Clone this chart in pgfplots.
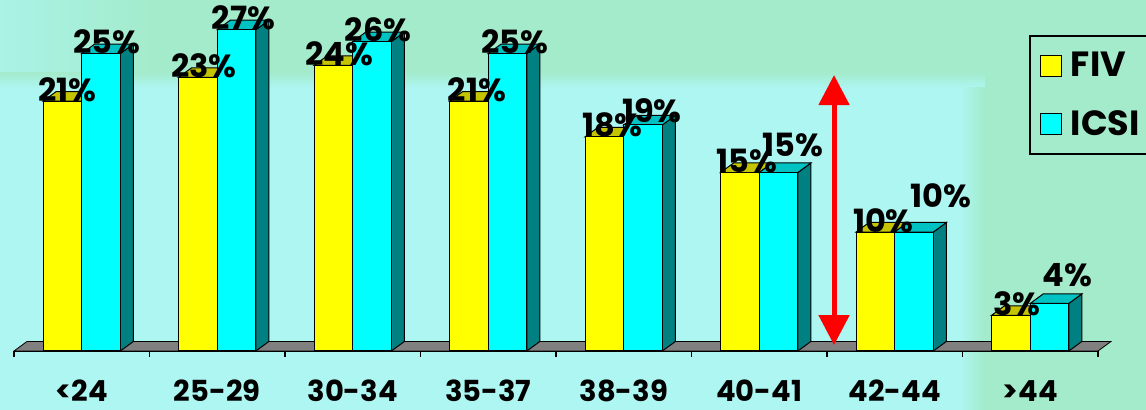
\documentclass[border=0pt]{standalone}
\usepackage{pgfplots}
\pgfplotsset{compat=1.18}
\usepackage{pgfplotstable}
\usetikzlibrary{arrows.meta}
\usepackage{fontspec}
\setmainfont{Poppins}

\definecolor{barY}{HTML}{FFFF00}
\definecolor{barYtop}{HTML}{C4C400}
\definecolor{barYside}{HTML}{8A8A00}
\definecolor{barC}{HTML}{00FFFF}
\definecolor{barCtop}{HTML}{00C2C2}
\definecolor{barCside}{HTML}{008080}
\definecolor{floorgray}{HTML}{808080}
\definecolor{bgcyan}{HTML}{ADF6F2}
\definecolor{bggreen}{HTML}{A3EBCA}

\pgfplotsset{
  /pgf/number format/assume math mode=true,
  sqlegend/.style={legend image code/.code={%
    \draw[##1,/tikz/.cd,draw=black,line width=0.5pt] (0pt,-5.25pt) rectangle (10.5pt,5.25pt);}},
}

% success rate by age group; fdx/fdy, idx/idy: label offsets in pt
\pgfplotstableread{
x fiv icsi fdx fdy idx idy
0 21 25 2.5 0 3.0 0
1 23 27 3.0 0 3.5 0
2 24 26 3.0 0 3.0 0
3 21 25 4.0 0 3.5 0
4 18 19 4.0 0 4.5 1
5 15 15 3.5 0 7.0 8
6 10 10 4.0 0 13.5 12.5
7 3 4 3.0 0 9.0 8.5
}\agedata

% bar geometry (axis units): width of one bar, depth offsets
\def\bw{0.285}
\def\dX{0.096}
\def\dY{0.80}

\newcommand{\barfont}{\bfseries\fontsize{16}{16}\selectfont}

\begin{document}
\begin{tikzpicture}
\useasboundingbox (0,0) rectangle (573pt,205pt);

% backdrop
\begin{scope}[x=0.5pt, y=-0.5pt, shift={(0pt,205pt)}]
  \fill[bgcyan] (0,0) rectangle (1146,410);
  \fill[bggreen] (0,0) rectangle (1146,72);
  \shade[top color=bggreen, bottom color=bgcyan] (0,72) rectangle (1146,88);
  \shade[left color=bgcyan!70!bggreen, right color=bggreen] (0,0) rectangle (160,72);
  \fill[bggreen] (985,0) rectangle (1146,410);
  \shade[left color=bgcyan, right color=bggreen] (960,88) rectangle (985,410);
\end{scope}

\begin{axis}[
  at={(7pt,29.5pt)}, anchor=south west,
  scale only axis, width=542pt, height=175.5pt,
  xmin=-0.5, xmax=7.5, ymin=0, ymax=29.5,
  clip=false,
  axis x line*=bottom, axis y line=none,
  axis line style={black, line width=0.6pt, -},
  xtick={0,...,7},
  xticklabels={<24,25-29,30-34,35-37,38-39,40-41,42-44,>44},
  major tick length=0pt,
  minor xtick={-0.5,0.5,...,7.5},
  xtick align=outside,
  minor tick length=3pt,
  minor tick style={black, line width=0.6pt},
  xticklabel style={font=\bfseries\fontsize{14.5}{14.5}\selectfont,
    anchor=base, yshift=-25.5pt, inner sep=0pt, text depth=0pt},
  legend style={at={(0.9364,0.9003)}, anchor=north west,
    draw=black, line width=0.8pt, fill=none,
    font=\bfseries\fontsize{17.5}{17.5}\selectfont,
    inner xsep=5pt, inner ysep=6pt, row sep=11.5pt,
    cells={anchor=west},
    /tikz/every odd column/.append style={column sep=2.5pt}},
]

% floor slab
\filldraw[fill=floorgray, draw=black, line width=0.4pt]
  (axis cs:-0.5,0) -- (axis cs:7.5,0) -- (axis cs:7.596,\dY)
  -- (axis cs:-0.404,\dY) -- cycle;

% FIV: top and side faces
\pgfplotsinvokeforeach{0,...,7}{%
  \pgfplotstablegetelem{#1}{fiv}\of\agedata
  \pgfmathsetmacro\v{\pgfplotsretval}%
  \pgfmathsetmacro\vt{\v+\dY}%
  \pgfmathsetmacro\xl{#1-\bw}%
  \pgfmathsetmacro\xlb{#1-\bw+\dX}%
  \pgfmathsetmacro\xm{#1}%
  \pgfmathsetmacro\xmb{#1+\dX}%
  \edef\faces{%
    \noexpand\filldraw[fill=barYside, draw=black, line width=0.5pt]
      (axis cs:\xm,0) -- (axis cs:\xm,\v) -- (axis cs:\xmb,\vt) -- (axis cs:\xmb,\dY) -- cycle;
    \noexpand\filldraw[fill=barYtop, draw=black, line width=0.5pt]
      (axis cs:\xl,\v) -- (axis cs:\xm,\v) -- (axis cs:\xmb,\vt) -- (axis cs:\xlb,\vt) -- cycle;
  }\faces
}

\addplot[ybar, bar width=\bw, bar shift=-0.1425, fill=barY, draw=black, line width=0.5pt, sqlegend]
  table[x=x, y=fiv]{\agedata};
\addlegendentry{FIV}

% ICSI: top and side faces
\pgfplotsinvokeforeach{0,...,7}{%
  \pgfplotstablegetelem{#1}{icsi}\of\agedata
  \pgfmathsetmacro\w{\pgfplotsretval}%
  \pgfmathsetmacro\wt{\w+\dY}%
  \pgfmathsetmacro\xm{#1}%
  \pgfmathsetmacro\xmb{#1+\dX}%
  \pgfmathsetmacro\xr{#1+\bw}%
  \pgfmathsetmacro\xrb{#1+\bw+\dX}%
  \edef\faces{%
    \noexpand\filldraw[fill=barCside, draw=black, line width=0.5pt]
      (axis cs:\xr,0) -- (axis cs:\xr,\w) -- (axis cs:\xrb,\wt) -- (axis cs:\xrb,\dY) -- cycle;
    \noexpand\filldraw[fill=barCtop, draw=black, line width=0.5pt]
      (axis cs:\xm,\w) -- (axis cs:\xr,\w) -- (axis cs:\xrb,\wt) -- (axis cs:\xmb,\wt) -- cycle;
  }\faces
}

\addplot[ybar, bar width=\bw, bar shift=0.1425, fill=barC, draw=black, line width=0.5pt, sqlegend]
  table[x=x, y=icsi]{\agedata};
\addlegendentry{\makebox[40pt][l]{ICSI}}

% gap marker between 40-41 and 42-44
\draw[red, line width=2.5pt,
  {Triangle[width=15pt,length=15pt]}-{Triangle[width=15pt,length=15pt]}]
  (axis cs:5.552,0.5) -- (axis cs:5.552,23.19);

% value labels
\addplot[draw=none, mark=none, forget plot, point meta=y,
  nodes near coords={\pgfmathprintnumber{\pgfplotspointmeta}\%},
  visualization depends on={\thisrow{fdx}\as\ldx},
  visualization depends on={\thisrow{fdy}\as\ldy},
  every node near coord/.append style={anchor=base, inner sep=0pt,
    xshift=\ldx pt, yshift=\ldy pt, font=\barfont, text=black}]
  table[x expr=\thisrow{x}-0.1425, y=fiv]{\agedata};
\addplot[draw=none, mark=none, forget plot, point meta=y,
  nodes near coords={\pgfmathprintnumber{\pgfplotspointmeta}\%},
  visualization depends on={\thisrow{idx}\as\ldx},
  visualization depends on={\thisrow{idy}\as\ldy},
  every node near coord/.append style={anchor=base, inner sep=0pt,
    xshift=\ldx pt, yshift=\ldy pt, font=\barfont, text=black}]
  table[x expr=\thisrow{x}+0.1425, y=icsi]{\agedata};

\end{axis}
\end{tikzpicture}
\end{document}
